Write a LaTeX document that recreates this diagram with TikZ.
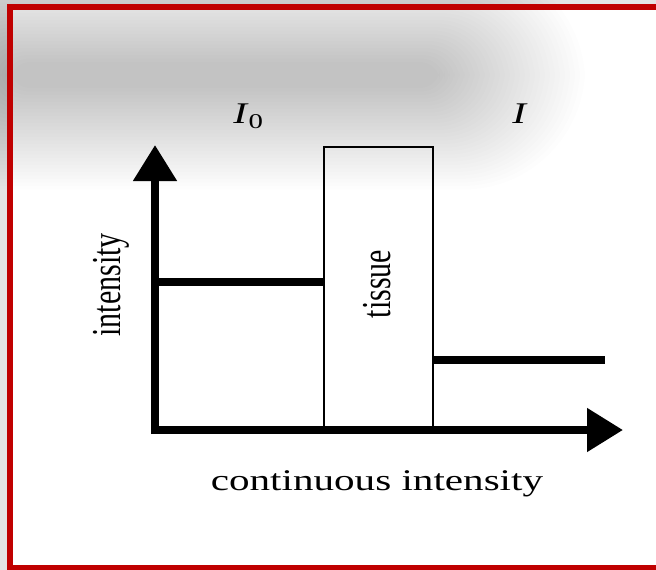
\documentclass[tikz,border=0pt]{standalone}
\usepackage{fontspec}
\setmainfont{Liberation Serif}
\usetikzlibrary{arrows.meta,positioning}
\definecolor{cadre}{RGB}{192,0,0}
\definecolor{fond}{RGB}{228,228,228}
\tikzset{
  axe/.style={line width=8pt, -{Triangle[length=36pt,width=42pt]}},
  niveau/.style={line width=8pt},
  tissu/.style={line width=2.5pt},
  etiquette/.style={font=\fontsize{30}{36}\selectfont, inner sep=0pt},
}

\begin{document}
\begin{tikzpicture}[x=1pt,y=-1pt]
  \useasboundingbox (0,0) rectangle (656,570);
  \clip (0,0) rectangle (656,570);
  % fond et cadre
  \fill[fond] (0,0) rectangle (656,570);
  \fill[white] (10,7) rectangle (660,568);
  % ombre floue en haut
  \foreach \k in {0,...,29} {
    \fill[black, opacity=0.0085, rounded corners={20pt+\k*3.5pt}]
      (10-\k*5,62-\k*3.5) rectangle (440+\k*5,88+\k*3.5);
  }
  \draw[cadre, line width=6pt] (660,7) -- (10,7) -- (10,568) -- (660,568);
  % axes
  \coordinate (o) at (155,430);
  \coordinate (hautY) at (155,145);
  \coordinate (finX) at (623,430);
  \draw[axe] ([yshift=-4pt]o) -- (hautY);
  \draw[axe] ([xshift=-4pt]o) -- (finX);
  % tissu
  \coordinate (tissuBG) at (324,430);
  \coordinate (tissuHD) at (433,147);
  \draw[tissu] (tissuBG) rectangle (tissuHD);
  % niveaux
  \coordinate (avantA) at (155,282);
  \coordinate (avantB) at (324,282);
  \coordinate (apresA) at (433,360);
  \coordinate (apresB) at (605,360);
  \draw[niveau] (avantA) -- (avantB);
  \draw[niveau] (apresA) -- (apresB);
  % textes
  \node[etiquette, xscale=1.37, anchor=base west] (lblIzero) at (233,123) {\textit{I}\textsubscript{0}};
  \node[etiquette, xscale=1.37, anchor=base west] (lblI) at (512,123) {\textit{I}};
  \node[etiquette, xscale=1.37, anchor=base] (lblX) at (377,490) {continuous intensity};
  \node[etiquette, xscale=1.37, rotate=90] (lblY) at (111,285) {intensity};
  \node[etiquette, xscale=1.37, rotate=90] (lblTissu) at (377,284) {tissue};
\end{tikzpicture}
\end{document}
